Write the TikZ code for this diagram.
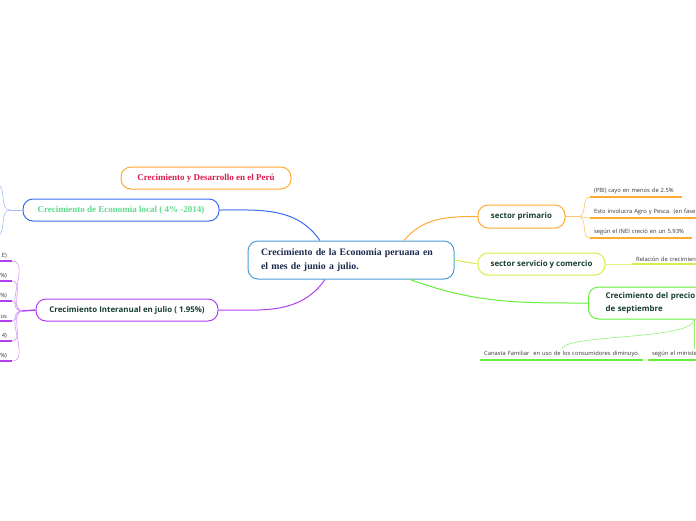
\documentclass[tikz,border=0pt]{standalone}
\usepackage{fontspec}
\setmainfont{Liberation Serif}
\setsansfont{Open Sans}
\usetikzlibrary{positioning,calc}

\definecolor{centreblue}{HTML}{4A9ED8}
\definecolor{navytext}{HTML}{1C2A4E}
\definecolor{branchorange}{HTML}{FFAA33}
\definecolor{crimsontext}{HTML}{D81B50}
\definecolor{branchblue}{HTML}{3A6CF0}
\definecolor{mintgreen}{HTML}{5EDC8C}
\definecolor{branchpurple}{HTML}{B040F0}
\definecolor{darkgreen}{HTML}{173F2F}
\definecolor{branchlime}{HTML}{DCEB4E}
\definecolor{branchgreen}{HTML}{66EE3A}
\definecolor{leafgray}{HTML}{333333}

\tikzset{
  topic/.style={draw, rounded corners=10pt, line width=1pt, fill=white, inner sep=0pt},
  serifbold/.style={font=\rmfamily\bfseries\fontsize{9}{10}\selectfont},
  sansbold/.style={font=\sffamily\bfseries\fontsize{7.9}{9}\selectfont, text=darkgreen},
  leaf/.style={inner xsep=4pt, inner ysep=2.5pt, text width=#1,
    font=\sffamily\fontsize{5.8}{6.5}\selectfont, text=leafgray},
  branch/.style={line width=1pt},
  twig/.style={line width=0.6pt},
  underline/.style={line width=1.4pt},
}

\begin{document}
\begin{tikzpicture}[x=1pt,y=-1pt]
  \clip (0,0) rectangle (696,520);
  % central topic
  \node[topic, draw=centreblue, minimum width=206pt, minimum height=38pt,
        text width=180pt, align=left, text=navytext,
        font=\rmfamily\bfseries\fontsize{9.8}{14}\selectfont] (cen) at (351,260)
    {Crecimiento de la Economia peruana en\\el mes de junio a julio.};
  % floating topic
  \node[topic, draw=branchorange, serifbold, text=crimsontext,
        minimum width=170pt, minimum height=22pt] (des) at (206,178)
    {Crecimiento y Desarrollo en el Perú};
  % left branches
  \node[topic, draw=branchblue, serifbold, text=mintgreen,
        minimum width=196pt, minimum height=22pt] (loc) at (121,210)
    {Crecimiento de Economia local ( 4\% -2014)};
  \node[topic, draw=branchpurple, sansbold,
        minimum width=182pt, minimum height=22pt] (int) at (127,310)
    {Crecimiento Interanual en julio ( 1.95\%)};
  % right branches
  \node[topic, draw=branchorange, sansbold,
        minimum width=87pt, minimum height=23pt] (pri) at (521.5,216.5)
    {sector primario};
  \node[topic, draw=branchlime, sansbold,
        minimum width=127pt, minimum height=22pt] (ser) at (541.5,264)
    {sector servicio y comercio};
  \node[topic, draw=branchgreen, sansbold, anchor=west,
        font=\sffamily\bfseries\fontsize{7.9}{12.5}\selectfont,
        minimum height=32pt, text width=130pt, align=left, inner xsep=17pt] (pre) at (588,303)
    {Crecimiento del precio\\de septiembre};

  % main connectors
  \draw[branch, branchblue] (loc.east) to[out=0,in=125] ([xshift=-31pt]cen.north);
  \draw[branch, branchpurple] (int.east) to[out=0,in=235] ([xshift=-26pt]cen.south);
  \draw[branch, branchorange] ([xshift=53pt]cen.north) to[out=50,in=180] (pri.west);
  \draw[branch, branchlime] (cen.east) -- (ser.west);
  \draw[branch, branchgreen] ([xshift=59pt]cen.south) to[out=-20,in=180] (pre.west);

  % sector primario leaves
  \coordinate (prij) at ($(pri.east)+(13,0)$);
  \draw[twig, branchorange!70] (pri.east) -- (prij);
  \node[leaf=84pt, anchor=south west] (pa) at (590,197) {(PBI) cayo en menos de 2.5\%};
  \node[leaf=122pt, anchor=south west] (pb) at (590,218) {Esto involucra Agro y Pesca. (en fase};
  \node[leaf=94pt, anchor=south west] (pc) at (590,238) {según el INEI creció en un 5.93\%};
  \foreach \n in {pa,pb,pc}{
    \draw[twig, branchorange!70] (prij) to[out=0,in=180] (\n.south west);
    \draw[underline, branchorange] (\n.south west) -- (\n.south east);
  }

  % sector servicio leaf
  \node[leaf=80pt, anchor=south west] (sa) at (632,264) {Relación de crecimien};
  \draw[twig, branchlime!70] (ser.east) -- (sa.south west);
  \draw[underline, branchlime] (sa.south west) -- (sa.south east);

  % precio leaves
  \coordinate (prej) at ([xshift=106pt]pre.south west);
  \node[leaf=155pt, anchor=south west] (ca) at (480,360)
    {\mbox{Canasta Familiar\ \ en uso de los consumidores diminuyo.}};
  \node[leaf=64pt, anchor=south west] (cb) at (648,360) {según el ministe};
  \draw[twig, branchgreen!70] (prej) .. controls (694,340) and (566,334) .. (ca.north);
  \draw[twig, branchgreen!70] (prej) -- (prej |- cb.north);
  \foreach \n in {ca,cb}
    \draw[underline, branchgreen] (\n.south west) -- (\n.south east);

  % local leaves (cut at the edge)
  \coordinate (locj) at (10,210);
  \coordinate (loca) at (-4,184);
  \coordinate (locb) at (-4,236);
  \draw[twig, branchblue!45] (loc.west) -- (locj);
  \draw[twig, branchblue!45] (locj) to[out=180,in=0] (loca);
  \draw[twig, branchblue!45] (locj) to[out=180,in=0] (locb);

  % interanual leaves (cut at the edge)
  \coordinate (intj) at (22,311);
  \draw[underline, branchpurple] (int.west) -- (intj);
  \foreach \t/\y [count=\i] in {E)/261, \%)/281, \%)/301, os/321, 4)/341, \%)/361}{
    \node[leaf=40pt, anchor=south east, align=right, inner xsep=5pt] (ia\i) at (12,\y) {\t};
    \draw[twig, branchpurple!55] (intj) to[out=180,in=0] (ia\i.south east);
    \draw[underline, branchpurple] (ia\i.south west) -- (ia\i.south east);
  }
\end{tikzpicture}
\end{document}
